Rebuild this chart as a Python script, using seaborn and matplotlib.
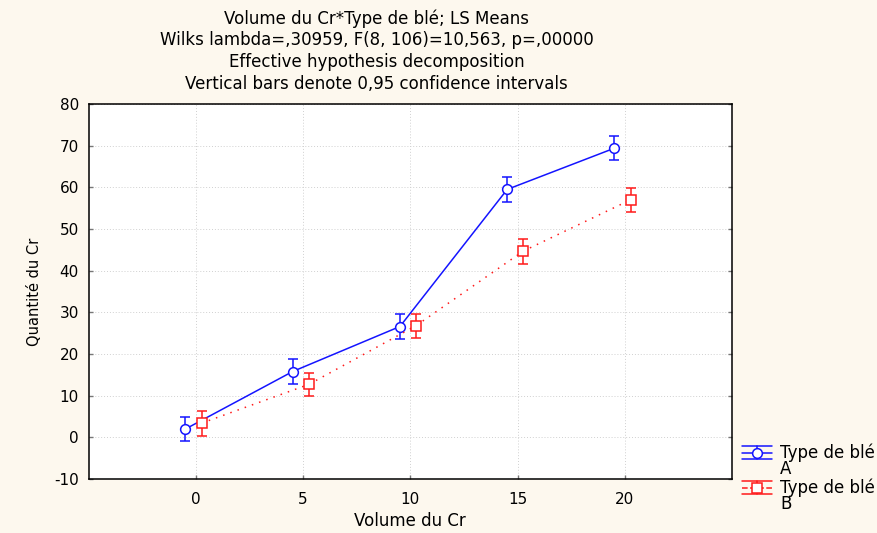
import numpy as np
import pandas as pd
import matplotlib
matplotlib.use("Agg")
import matplotlib.pyplot as plt
import seaborn as sns
from matplotlib.lines import Line2D
from matplotlib.legend_handler import HandlerBase

# ---- data ----
volume = [0, 5, 10, 15, 20]
types = ["A", "B"]
mean_A = [2.0, 15.8, 26.6, 59.5, 69.4]
mean_B = [3.4, 12.7, 26.8, 44.7, 57.0]
ci_A = [2.9, 2.9, 2.9, 3.0, 2.9]
ci_B = [3.0, 2.85, 2.9, 3.0, 2.8]
xticks = [0, 5, 10, 15, 20]
yticks = [-10, 0, 10, 20, 30, 40, 50, 60, 70, 80]
title_lines = [
    "Volume du Cr*Type de blé; LS Means",
    "Wilks lambda=,30959, F(8, 106)=10,563, p=,00000",
    "Effective hypothesis decomposition",
    "Vertical bars denote 0,95 confidence intervals",
]
legend_labels = ["Type de blé\nA", "Type de blé\nB"]

BLUE = "#1414ff"
RED = "#ff1a1a"
BG = "#fdf8ee"
dodge = {"A": -0.48, "B": 0.27}

df = pd.DataFrame({
    "volume": volume * 2,
    "type": ["A"] * len(volume) + ["B"] * len(volume),
    "mean": mean_A + mean_B,
    "ci": ci_A + ci_B,
})
df["xpos"] = df["volume"] + df["type"].map(dodge)

sns.set_style("white")
plt.rcParams["font.family"] = ["DejaVu Sans"]
plt.rcParams["text.color"] = "black"
plt.rcParams["axes.labelcolor"] = "black"

fig = plt.figure(figsize=(8.77, 5.33), dpi=100, facecolor=BG)
ax = fig.add_axes([88.5 / 877, 54 / 533, (732 - 88.5) / 877, (479 - 104) / 533])
ax.set_facecolor("white")

palette = {"A": BLUE, "B": RED}

sns.lineplot(data=df, x="xpos", y="mean", hue="type", style="type",
             palette=palette, markers={"A": "o", "B": "s"},
             dashes={"A": "", "B": (1, 4)}, linewidth=1.1, markersize=7,
             legend=False, ax=ax, zorder=3, sort=False)
for ln in ax.lines:
    ln.set_markerfacecolor("white")
    ln.set_markeredgecolor(ln.get_color())
    ln.set_markeredgewidth(1.1)

# confidence-interval bars
for tname in types:
    sub = df[df["type"] == tname]
    col = palette[tname]
    ax.errorbar(sub["xpos"].to_numpy(), sub["mean"].to_numpy(),
                yerr=sub["ci"].to_numpy(), fmt="none", color=col,
                ecolor=col, elinewidth=1.1, capsize=3.6, capthick=1.1, zorder=2)

ax.set_xlim(-5, 25)
ax.set_ylim(-10, 80)
ax.set_xticks(xticks)
ax.set_yticks(yticks)
ax.set_xticklabels([str(v) for v in xticks])
ax.set_yticklabels([str(v) for v in yticks])
ax.tick_params(axis="both", direction="in", length=3, width=1, colors="#777777",
               labelcolor="black", labelsize=11)
ax.tick_params(axis="y", right=True, left=True, pad=7)
ax.tick_params(axis="x", bottom=True, pad=9)
ax.grid(True, linestyle=(0, (1, 2)), color="#d0d0d0", linewidth=0.7)
for s in ax.spines.values():
    s.set_visible(True)
    s.set_color("black")
    s.set_linewidth(1.1)

ax.set_xlabel("Volume du Cr", fontsize=12)
ax.set_ylabel("Quantité du Cr", fontsize=10.5)
ax.xaxis.set_label_coords(0.5, -0.088)
ax.yaxis.set_label_coords(-0.073, 0.5)

fig.text(376.5 / 877, 1 - 9 / 533, "\n".join(title_lines), ha="center", va="top",
         fontsize=12, linespacing=1.28)


class ErrHandler(HandlerBase):
    def create_artists(self, legend, orig_handle, xdescent, ydescent,
                       width, height, fontsize, trans):
        c = orig_handle.get_color()
        x0, x1 = -xdescent, -xdescent + width
        yc = (height - ydescent) / 2.0 + 0.55 * fontsize
        off = 0.56 * height
        xm = (x0 + x1) / 2
        arts = []
        mid = Line2D([x0, x1], [yc, yc], color=c, lw=1.1,
                     linestyle=orig_handle.get_linestyle())
        top = Line2D([x0, x1], [yc + off, yc + off], color=c, lw=1.1)
        bot = Line2D([x0, x1], [yc - off, yc - off], color=c, lw=1.1)
        stem = Line2D([xm, xm], [yc - off, yc + off], color=c, lw=1.1)
        mk = Line2D([xm], [yc], marker=orig_handle.get_marker(), markersize=7,
                    mfc="white", mec=c, mew=1.1, linestyle="none")
        for a in (top, bot, stem, mid, mk):
            a.set_transform(trans)
            arts.append(a)
        return arts


handles = [
    Line2D([], [], color=BLUE, marker="o", linestyle="-"),
    Line2D([], [], color=RED, marker="s", linestyle=(0, (1, 4))),
]
leg = fig.legend(handles, legend_labels, loc="upper left",
                 bbox_to_anchor=(742 / 877, 1 - 443 / 533),
                 frameon=False, fontsize=12, handlelength=1.8, handletextpad=0.5,
                 labelspacing=0.0, borderpad=0, borderaxespad=0,
                 handler_map={Line2D: ErrHandler()})
for t in leg.get_texts():
    t.set_linespacing(0.9)

fig.savefig("out.png", dpi=100, facecolor=BG)
